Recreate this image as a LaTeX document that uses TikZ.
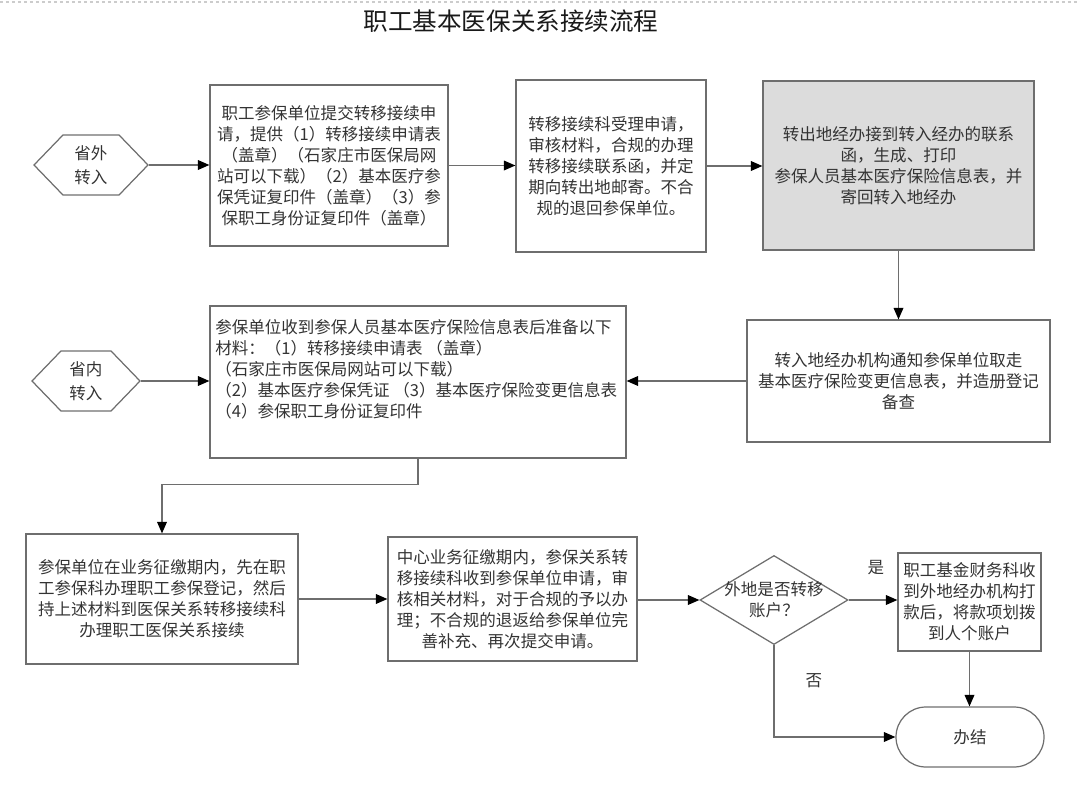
\documentclass[tikz,border=0pt]{standalone}
\usepackage{fontspec}
\usepackage{tikz}
\usetikzlibrary{shapes,arrows.meta,positioning,calc}
\newfontfamily\cjk{Noto Sans CJK SC}
\definecolor{linegray}{HTML}{6E6E6E}
\definecolor{textgray}{HTML}{333333}
\definecolor{fillgray}{HTML}{DCDCDC}

\tikzset{
  boxsize/.style 2 args={minimum width=#1*0.02cm, minimum height=#2*0.02cm},
  box/.style={draw=linegray, line width=0.7pt, rectangle, inner sep=0pt,
    align=center, text=textgray, font=\fontsize{9.4pt}{12pt}\cjk},
  hexa/.style={box, shape=signal, signal to=west and east, signal pointer angle=92,
    font=\fontsize{9.4pt}{13.5pt}\cjk},
  decision/.style={box, shape=diamond},
  stopbox/.style={box, shape=rounded rectangle},
  lbl/.style={inner sep=0pt, text=textgray, font=\fontsize{9.4pt}{12pt}\cjk},
  arr/.style={draw=linegray, line width=0.7pt,
    -{Triangle[length=6.5pt, width=5.5pt, color=black]}},
}

\begin{document}
\begin{tikzpicture}[x=0.02cm, y=-0.02cm]
  \useasboundingbox (0,0) rectangle (1080,791);
  \draw[gray!40, line width=0.06cm, dash pattern=on 0.06cm off 0.06cm] (0,2) -- (1080,2);
  \node[text=black!90, font=\fontsize{14pt}{16pt}\cjk] (title) at (511,21) {职工基本医保关系接续流程};

  % 省外转入
  \node[hexa, boxsize={114}{60}] (out) at (91,165) {省外\\转入};
  \node[box, boxsize={238}{161}] (apply) at (329,165.5)
    {职工参保单位提交转移接续申\\请，提供（1）转移接续申请表\\（盖章）（石家庄市医保局网\\站可以下载）（2）基本医疗参\\保凭证复印件（盖章）（3）参\\保职工身份证复印件（盖章）};
  \node[box, boxsize={190}{172}] (accept) at (611,166)
    {转移接续科受理申请，\\审核材料，合规的办理\\转移接续联系函，并定\\期向转出地邮寄。不合\\规的退回参保单位。};
  \node[box, fill=fillgray, boxsize={271}{169}] (sendback) at (898.5,165.5)
    {转出地经办接到转入经办的联系\\函，生成、打印\\参保人员基本医疗保险信息表，并\\寄回转入地经办};
  \node[box, boxsize={303}{122}] (notify) at (898.5,381)
    {转入地经办机构通知参保单位取走\\基本医疗保险变更信息表，并造册登记\\备查};

  % 省内转入
  \node[hexa, boxsize={108}{60}] (in) at (86,381) {省内\\转入};
  \node[box, boxsize={416}{152}] (prepare) at (418,382) {};
  \node[lbl, align=left, anchor=north west] (preparetext) at (215,319)
    {参保单位收到参保人员基本医疗保险信息表后准备以下\\材料：（1）转移接续申请表 （盖章）\\（石家庄市医保局网站可以下载）\\（2）基本医疗参保凭证 （3）基本医疗保险变更信息表\\（4）参保职工身份证复印件};

  \node[box, boxsize={272}{130}] (register) at (162,599)
    {参保单位在业务征缴期内，先在职\\工参保科办理职工参保登记，然后\\持上述材料到医保关系转移接续科\\办理职工医保关系接续};
  \node[box, boxsize={249}{124}] (review) at (512.5,599)
    {中心业务征缴期内，参保关系转\\移接续科收到参保单位申请，审\\核相关材料，对于合规的予以办\\理；不合规的退返给参保单位完\\善补充、再次提交申请。};
  \node[decision, boxsize={148}{89}] (ask) at (774,600) {};
  \node[lbl, align=center] (asktext) at (ask) {外地是否转移\\账户？};
  \node[box, boxsize={143}{98}] (fund) at (969.5,602)
    {职工基金财务科收\\到外地经办机构打\\款后，将款项划拨\\到人个账户};
  \node[stopbox, boxsize={148}{60}] (done) at (970,737) {办结};

  \draw[arr] (out.east) -- (out.east -| apply.west);
  \draw[arr] (apply.east) -- (apply.east -| accept.west);
  \draw[arr] (accept.east) -- (accept.east -| sendback.west);
  \draw[arr] (sendback.south) -- (notify.north);
  \draw[arr] (notify.west) -- (notify.west -| prepare.east);
  \draw[arr] (in.east) -- (in.east -| prepare.west);
  \draw[arr] (prepare.south) -- ++(0,26) -| (register.north);
  \draw[arr] (register.east) -- (register.east -| review.west);
  \draw[arr] (review.east |- ask.west) -- (ask.west);
  \draw[arr] (ask.east) -- (ask.east -| fund.west);
  \draw[arr] (fund.south) -- (fund.south |- done.north);
  \draw[arr] (ask.south) |- (done.west);
  \node[lbl] (yes) at (876,568) {是};
  \node[lbl] (no) at (814,681) {否};
\end{tikzpicture}
\end{document}
